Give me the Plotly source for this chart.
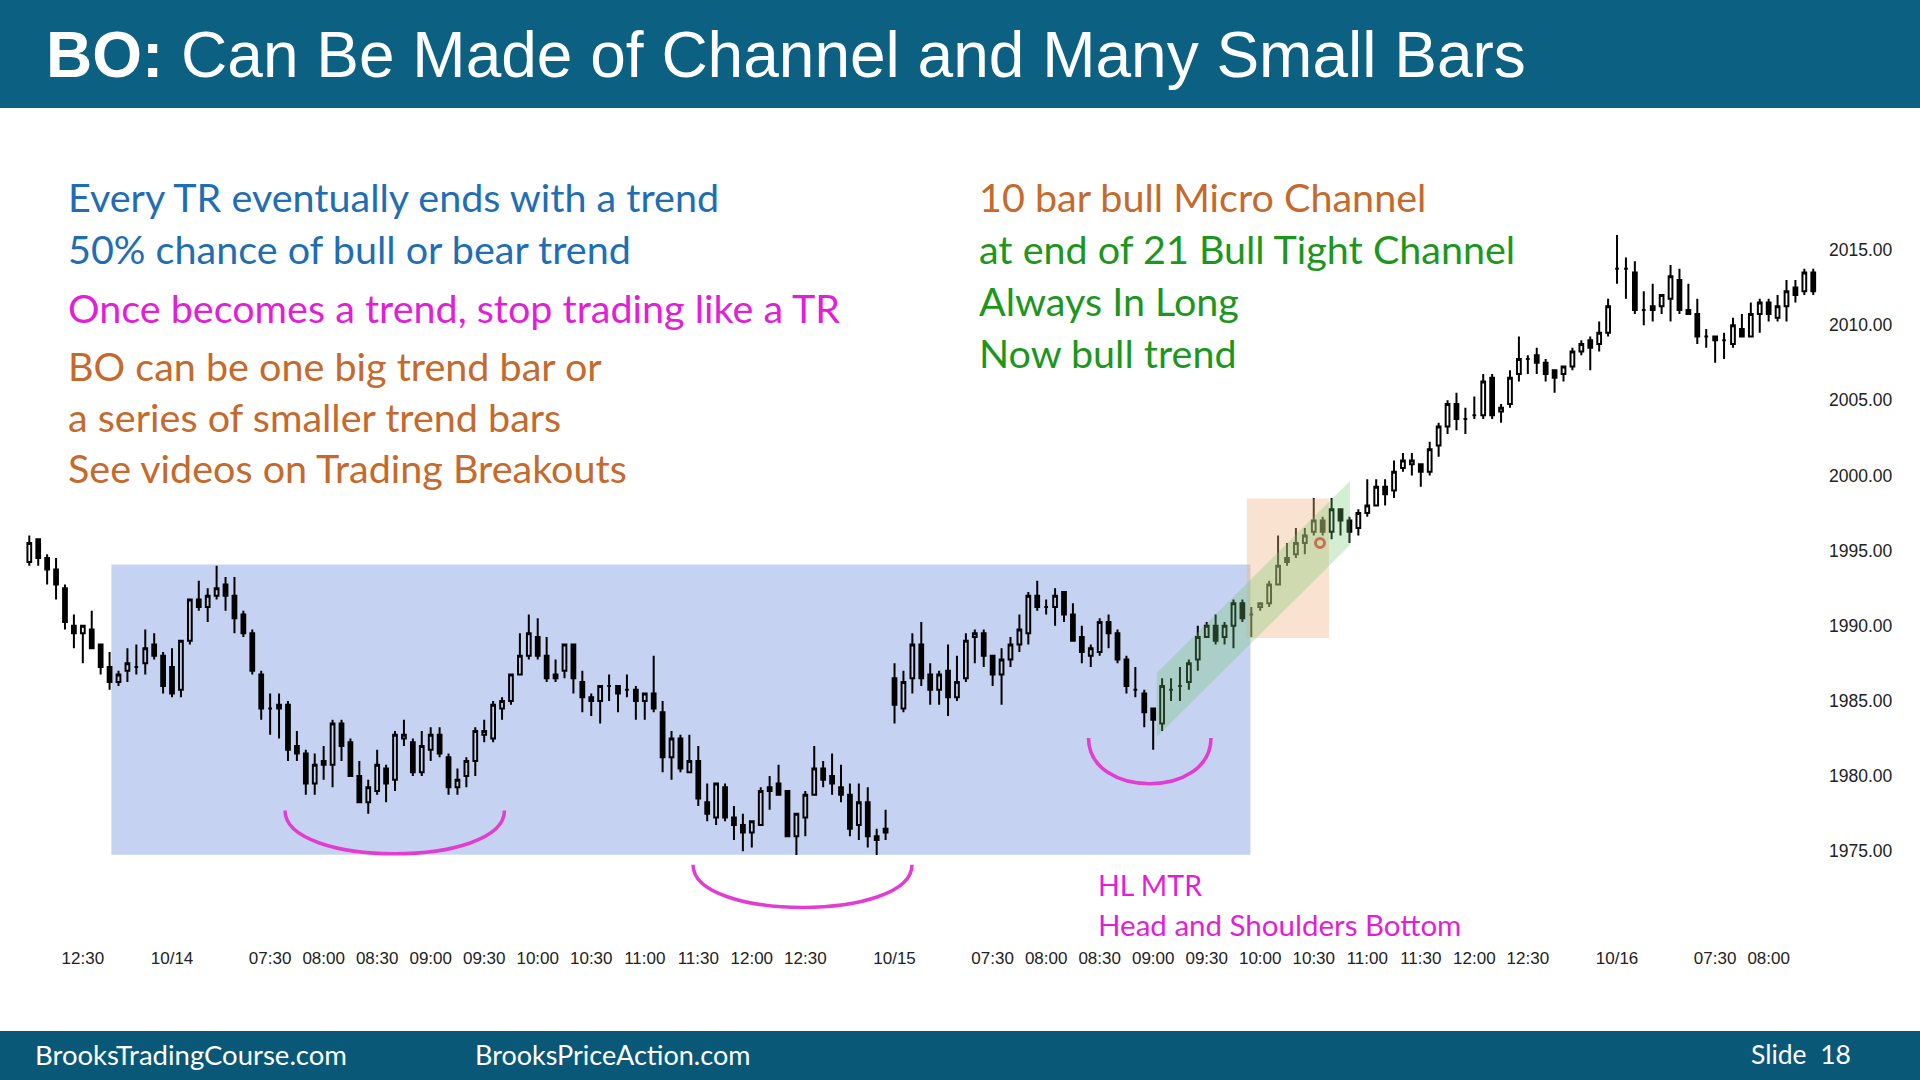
import pandas as pd
import plotly.graph_objects as go

# ---------------- data ----------------
sessions = [("2015-10-13", "12:00", "13:15"),
            ("2015-10-14", "06:35", "13:15"),
            ("2015-10-15", "06:35", "13:15"),
            ("2015-10-16", "06:35", "08:25")]

opens = [1994.25, 1995.75, 1994.5, 1993.75, 1992.5, 1990.0, 1989.5, 1989.75, 1988.75, 1987.25,
         1986.25, 1987.0, 1987.25, 1987.5, 1988.75, 1988.0, 1987.25, 1985.75, 1989.0, 1991.75,
         1991.25, 1992.0, 1992.75, 1992.0, 1990.75, 1989.5, 1986.75, 1984.5, 1984.75, 1984.75,
         1982.0, 1981.5, 1979.5, 1981.0, 1980.75, 1983.5, 1982.25, 1980.0, 1978.25, 1979.0,
         1980.5, 1979.75, 1982.5, 1982.25, 1980.25, 1981.75, 1982.75, 1981.25, 1979.25, 1980.0,
         1981.0, 1982.75, 1982.5, 1984.5, 1985.0, 1986.75, 1988.0, 1989.25, 1988.0, 1986.75,
         1987.0, 1988.75, 1986.25, 1985.25, 1985.0, 1986.0, 1986.0, 1985.75, 1985.75, 1985.0,
         1985.5, 1984.25, 1981.25, 1982.5, 1980.25, 1981.0, 1978.25, 1977.25, 1979.25, 1977.25,
         1976.75, 1976.25, 1976.75, 1979.25, 1979.5, 1979.0, 1976.0, 1977.25, 1978.75, 1980.5,
         1980.0, 1979.25, 1978.75, 1976.75, 1978.25, 1976.0, 1976.5, 1986.5, 1984.5, 1986.5,
         1988.75, 1986.75, 1985.75, 1987.0, 1985.25, 1986.5, 1989.25, 1989.5, 1988.0, 1986.75,
         1987.75, 1988.75, 1989.5, 1992.0, 1991.25, 1991.25, 1992.25, 1990.75, 1989.25, 1988.0,
         1988.25, 1990.25, 1989.5, 1987.75, 1985.75, 1985.5, 1984.5, 1983.5, 1985.75, 1986.0,
         1986.25, 1987.75, 1989.25, 1990.0, 1989.25, 1990.0, 1991.5, 1990.75, 1991.25, 1991.5,
         1992.75, 1994.5, 1994.75, 1995.5, 1996.25, 1997.0, 1996.25, 1997.75, 1997.0, 1996.5,
         1997.5, 1998.0, 1999.25, 1999.0, 2000.5, 2000.75, 2000.75, 2000.25, 2002.0, 2003.25,
         2004.75, 2003.75, 2004.0, 2004.0, 2006.5, 2004.25, 2004.75, 2006.75, 2007.75, 2008.0,
         2007.5, 2007.0, 2006.75, 2007.25, 2008.25, 2009.0, 2008.75, 2009.5, 2013.75, 2013.75,
         2013.5, 2011.0, 2011.25, 2011.25, 2011.75, 2013.0, 2011.0, 2010.75, 2009.25, 2009.25,
         2009.0, 2008.75, 2009.75, 2009.25, 2010.75, 2011.5, 2010.5, 2011.25, 2012.5, 2012.25,
         2013.5]
highs = [1996.0, 1995.75, 1994.75, 1994.5, 1992.75, 1990.75, 1990.0, 1991.0, 1988.75, 1988.25,
         1987.0, 1988.5, 1988.75, 1989.75, 1989.5, 1988.25, 1988.5, 1989.0, 1991.75, 1993.0,
         1992.5, 1994.0, 1993.25, 1993.25, 1991.0, 1989.75, 1987.0, 1985.5, 1985.5, 1985.0,
         1983.0, 1981.75, 1981.5, 1982.0, 1983.75, 1983.75, 1982.5, 1981.0, 1979.75, 1981.75,
         1980.75, 1983.0, 1983.75, 1982.5, 1983.0, 1983.25, 1983.25, 1981.5, 1980.5, 1981.25,
         1983.25, 1983.75, 1985.0, 1985.25, 1986.75, 1989.5, 1990.75, 1990.5, 1989.25, 1987.75,
         1988.75, 1988.75, 1987.0, 1985.5, 1986.0, 1986.75, 1986.0, 1986.75, 1986.0, 1985.5,
         1988.0, 1985.0, 1983.0, 1982.75, 1982.75, 1982.0, 1979.5, 1979.5, 1979.5, 1978.0,
         1977.5, 1977.0, 1979.25, 1980.0, 1980.75, 1979.0, 1977.5, 1979.0, 1982.0, 1981.0,
         1981.5, 1980.75, 1979.5, 1979.5, 1979.25, 1976.5, 1977.75, 1987.5, 1987.0, 1989.5,
         1990.25, 1987.5, 1987.0, 1988.75, 1988.0, 1989.5, 1989.75, 1989.75, 1988.0, 1988.5,
         1989.25, 1990.75, 1992.25, 1993.0, 1991.75, 1992.5, 1992.25, 1991.5, 1990.0, 1988.75,
         1990.5, 1990.75, 1989.75, 1988.0, 1987.25, 1985.75, 1984.5, 1986.5, 1986.5, 1987.25,
         1987.75, 1990.0, 1990.25, 1990.75, 1990.25, 1991.75, 1991.75, 1991.25, 1991.5, 1993.0,
         1996.0, 1995.5, 1996.5, 1996.5, 1998.5, 1997.25, 1998.5, 1997.75, 1997.25, 1997.75,
         1999.75, 1999.75, 1999.75, 2001.0, 2001.5, 2001.5, 2000.75, 2002.25, 2003.5, 2005.0,
         2005.5, 2004.5, 2005.25, 2006.75, 2006.75, 2004.75, 2007.0, 2009.25, 2008.0, 2008.5,
         2007.75, 2007.0, 2007.25, 2008.5, 2009.0, 2009.25, 2010.25, 2011.75, 2016.0, 2014.5,
         2014.25, 2012.25, 2012.75, 2012.0, 2014.0, 2013.75, 2012.75, 2011.75, 2009.75, 2009.25,
         2009.5, 2010.5, 2010.75, 2011.5, 2011.75, 2011.75, 2012.0, 2013.0, 2013.0, 2013.75,
         2013.75]
lows = [1994.0, 1994.0, 1992.75, 1991.75, 1989.75, 1988.5, 1987.5, 1988.5, 1986.75, 1985.75,
        1986.0, 1986.25, 1986.75, 1986.75, 1987.75, 1985.5, 1985.25, 1985.25, 1988.75, 1991.0,
        1990.25, 1991.75, 1991.0, 1989.5, 1989.25, 1986.75, 1983.75, 1982.75, 1982.5, 1981.0,
        1981.0, 1978.75, 1978.75, 1979.75, 1979.25, 1981.0, 1980.0, 1978.25, 1977.5, 1978.75,
        1978.25, 1979.0, 1982.0, 1980.0, 1980.0, 1981.0, 1981.25, 1978.75, 1978.75, 1979.25,
        1980.0, 1982.25, 1982.25, 1983.75, 1984.75, 1986.75, 1987.75, 1987.75, 1986.25, 1986.25,
        1986.5, 1985.5, 1984.25, 1984.0, 1983.5, 1985.0, 1984.25, 1985.25, 1983.75, 1983.75,
        1984.25, 1980.25, 1979.75, 1980.25, 1980.25, 1978.0, 1977.0, 1976.75, 1977.0, 1975.75,
        1975.0, 1975.25, 1976.75, 1977.75, 1978.75, 1976.0, 1974.75, 1976.0, 1978.75, 1979.25,
        1978.75, 1978.25, 1976.0, 1975.75, 1975.25, 1974.75, 1975.75, 1983.5, 1984.25, 1985.5,
        1986.0, 1984.75, 1984.75, 1984.0, 1985.0, 1986.25, 1987.5, 1987.25, 1986.0, 1984.75,
        1987.25, 1988.25, 1988.75, 1991.0, 1990.75, 1990.0, 1990.25, 1989.0, 1987.5, 1987.25,
        1988.0, 1988.5, 1987.5, 1985.5, 1985.25, 1983.25, 1981.75, 1983.0, 1985.0, 1985.0,
        1985.75, 1987.0, 1989.25, 1988.75, 1988.75, 1988.5, 1990.25, 1989.25, 1991.0, 1991.25,
        1992.75, 1994.0, 1994.5, 1994.75, 1996.0, 1996.0, 1995.75, 1996.0, 1995.5, 1996.0,
        1997.25, 1998.0, 1998.0, 1998.5, 2000.25, 2000.0, 1999.25, 2000.0, 2001.25, 2002.75,
        2003.0, 2002.75, 2003.75, 2003.75, 2003.75, 2003.5, 2004.5, 2006.25, 2006.75, 2006.75,
        2006.25, 2005.5, 2006.25, 2007.0, 2008.0, 2007.0, 2008.25, 2009.25, 2012.75, 2011.75,
        2010.75, 2010.0, 2010.25, 2010.75, 2010.25, 2010.75, 2010.75, 2008.75, 2008.5, 2007.5,
        2007.75, 2008.5, 2009.25, 2009.25, 2009.5, 2010.25, 2010.25, 2010.25, 2011.5, 2012.0,
        2012.0]
closes = [1995.5, 1994.5, 1993.75, 1992.75, 1990.25, 1989.5, 1990.0, 1988.5, 1987.25, 1986.25,
          1986.75, 1987.5, 1987.25, 1988.5, 1988.0, 1986.0, 1985.5, 1989.0, 1991.75, 1991.25,
          1992.0, 1992.5, 1992.0, 1990.5, 1989.5, 1987.0, 1984.5, 1984.5, 1984.5, 1981.75,
          1981.5, 1979.5, 1980.75, 1980.75, 1983.5, 1982.0, 1980.0, 1978.25, 1979.25, 1980.75,
          1979.5, 1982.75, 1982.75, 1980.25, 1982.0, 1982.75, 1981.5, 1979.25, 1979.75, 1981.0,
          1983.0, 1983.0, 1984.75, 1985.0, 1986.75, 1988.0, 1989.5, 1988.0, 1986.5, 1986.5,
          1988.75, 1986.5, 1985.25, 1985.0, 1986.0, 1986.0, 1985.5, 1985.75, 1985.0, 1985.5,
          1984.5, 1981.25, 1982.5, 1980.5, 1981.0, 1978.5, 1977.5, 1979.5, 1977.25, 1976.75,
          1976.25, 1977.0, 1979.0, 1979.0, 1978.75, 1976.0, 1977.5, 1978.75, 1980.5, 1979.75,
          1979.5, 1978.75, 1976.5, 1978.25, 1976.0, 1975.75, 1976.25, 1984.75, 1986.25, 1988.75,
          1986.5, 1985.75, 1986.75, 1985.25, 1986.25, 1989.0, 1989.5, 1988.0, 1986.75, 1987.75,
          1988.75, 1989.75, 1992.0, 1991.25, 1991.25, 1992.0, 1990.75, 1989.0, 1988.25, 1988.5,
          1990.25, 1989.5, 1987.75, 1986.0, 1985.75, 1984.25, 1983.75, 1986.0, 1985.75, 1986.0,
          1987.5, 1989.25, 1990.0, 1989.0, 1990.0, 1991.5, 1990.5, 1990.75, 1991.5, 1992.75,
          1994.0, 1994.25, 1995.5, 1996.0, 1997.0, 1996.25, 1997.75, 1997.0, 1996.25, 1997.5,
          1998.0, 1999.25, 1998.75, 2000.25, 2001.0, 2001.0, 2000.25, 2001.75, 2003.25, 2004.75,
          2003.75, 2003.75, 2004.0, 2006.25, 2004.0, 2004.5, 2006.5, 2007.75, 2007.75, 2007.5,
          2006.75, 2006.5, 2007.25, 2008.25, 2008.75, 2008.5, 2009.5, 2011.25, 2013.75, 2013.75,
          2011.0, 2011.0, 2011.0, 2012.0, 2013.25, 2011.0, 2010.75, 2009.25, 2009.25, 2009.0,
          2009.0, 2010.0, 2009.25, 2010.75, 2011.5, 2010.75, 2011.25, 2012.25, 2012.0, 2013.5,
          2012.25]

tick_clock = ["07:30", "08:00", "08:30", "09:00", "09:30", "10:00",
              "10:30", "11:00", "11:30", "12:00", "12:30"]
price_ticks = [1975, 1980, 1985, 1990, 1995, 2000, 2005, 2010, 2015]

signal_x = [144.7]
signal_y = [1995.5]

# ---------------- build bar index & ticks ----------------
bar_times = []
for d, t0, t1 in sessions:
    bar_times += list(pd.date_range(f"{d} {t0}", f"{d} {t1}", freq="5min"))
xs = list(range(len(bar_times)))

tickvals, ticktext = [], []
for i, ts in enumerate(bar_times):
    first_of_day = i > 0 and ts.date() != bar_times[i - 1].date()
    if first_of_day:
        tickvals.append(i)
        ticktext.append(ts.strftime("%m/%d"))
    elif i > 0 and ts.strftime("%H:%M") in tick_clock:
        tickvals.append(i)
        ticktext.append(ts.strftime("%H:%M"))

# ---------------- geometry helpers (pixel -> paper) ----------------
W, H = 1920, 1080
ML, MR, MT, MB = 0, 98, 110, 134
PW, PH = W - ML - MR, H - MT - MB


def px(x):
    return (x - ML) / PW


def py(y):
    return (H - MB - y) / PH


fig = go.Figure()

fig.add_trace(go.Candlestick(
    x=xs, open=opens, high=highs, low=lows, close=closes,
    increasing=dict(line=dict(color="#000000", width=2), fillcolor="rgba(0,0,0,0)"),
    decreasing=dict(line=dict(color="#000000", width=2), fillcolor="#000000"),
    whiskerwidth=0, showlegend=False, hoverinfo="skip",
))

fig.add_trace(go.Scatter(
    x=signal_x, y=signal_y, mode="markers",
    marker=dict(symbol="circle-open", size=9, color="#e8141e", line=dict(width=3, color="#e8141e")),
    showlegend=False, hoverinfo="skip",
))

shapes = []
# header / footer bands
shapes.append(dict(type="rect", xref="paper", yref="paper", x0=px(0), x1=px(W), y0=py(108), y1=py(0),
                   fillcolor="#0c6182", line=dict(width=0), layer="below"))
shapes.append(dict(type="rect", xref="paper", yref="paper", x0=px(0), x1=px(W), y0=py(H), y1=py(1031),
                   fillcolor="#0a5878", line=dict(width=0), layer="below"))
# trading range box
shapes.append(dict(type="rect", xref="x", yref="y", x0=9.2, x1=136.9, y0=1974.77, y1=1994.07,
                   fillcolor="#c6d2f1", line=dict(width=0), layer="below"))
# micro channel box
shapes.append(dict(type="rect", xref="x", yref="y", x0=136.5, x1=145.7, y0=1989.18, y1=1998.47,
                   fillcolor="rgba(240,180,130,0.38)", line=dict(width=0), layer="above"))
# tight channel band
shapes.append(dict(type="path", xref="x", yref="y",
                   path="M 126.4,1982.6 L 126.4,1986.86 L 148.06,1999.63 L 148.06,1995.37 Z",
                   fillcolor="rgba(110,200,110,0.30)", line=dict(width=0), layer="above"))


# magenta arcs (lower half-ellipses)
def arc(x0, x1, ytop, ybot):
    k = 4.0 / 3.0
    yc = ytop - k * (ytop - ybot)
    return dict(type="path", xref="x", yref="y",
                path=f"M {x0},{ytop} C {x0},{yc} {x1},{yc} {x1},{ytop}",
                line=dict(color="#e23cd2", width=3.5), layer="above")


shapes.append(arc(28.67, 53.27, 1977.70, 1974.83))
shapes.append(arc(74.41, 98.96, 1974.10, 1971.26))
shapes.append(arc(118.75, 132.48, 1982.53, 1979.49))

TXT = "Lato"
BLUE, MAG, ORA, GRN = "#1f6db4", "#e21fd6", "#c5692c", "#1c961c"

ann = []
ann.append(dict(text="<b>BO:</b> Can Be Made of Channel and Many Small Bars", x=px(44), y=py(55),
                font=dict(family="Liberation Sans, Arial", size=64, color="white")))
left_lines = [("Every TR eventually ends with a trend", 197, BLUE),
              ("50% chance of bull or bear trend", 249, BLUE),
              ("Once becomes a trend, stop trading like a TR", 307, MAG),
              ("BO can be one big trend bar or", 365, ORA),
              ("a series of smaller trend bars", 416, ORA),
              ("See videos on Trading Breakouts", 468, ORA)]
for t, y, c in left_lines:
    ann.append(dict(text=t, x=px(66), y=py(y), font=dict(family=TXT, size=39.5, color=c)))
right_lines = [("10 bar bull Micro Channel", 197, ORA),
               ("at end of 21 Bull Tight Channel", 249, GRN),
               ("Always In Long", 300, GRN),
               ("Now bull trend", 352, GRN)]
for t, y, c in right_lines:
    ann.append(dict(text=t, x=px(977), y=py(y), font=dict(family=TXT, size=39.5, color=c)))
ann.append(dict(text="HL MTR", x=px(1096), y=py(885), font=dict(family=TXT, size=28.5, color=MAG)))
ann.append(dict(text="Head and Shoulders Bottom", x=px(1096), y=py(924), font=dict(family=TXT, size=29.5, color=MAG)))
# footer
ann.append(dict(text="BrooksTradingCourse.com", x=px(33), y=py(1054), font=dict(family=TXT, size=27.5, color="white")))
ann.append(dict(text="BrooksPriceAction.com", x=px(473), y=py(1054), font=dict(family=TXT, size=27, color="white")))
ann.append(dict(text="Slide  18", x=px(1749), y=py(1054), font=dict(family=TXT, size=26.5, color="white")))
for a in ann:
    a.update(xref="paper", yref="paper", xanchor="left", yanchor="middle", showarrow=False)

fig.update_layout(
    width=W, height=H, margin=dict(l=ML, r=MR, t=MT, b=MB, pad=0),
    paper_bgcolor="white", plot_bgcolor="rgba(0,0,0,0)",
    shapes=shapes, annotations=ann, boxgap=0.4,
    xaxis=dict(range=[-3.2848, 200.98], tickvals=tickvals, ticktext=ticktext,
               showgrid=False, zeroline=False, showline=False, ticks="",
               tickfont=dict(family="Liberation Sans, Arial", size=17, color="#222"),
               rangeslider=dict(visible=False), fixedrange=True),
    yaxis=dict(range=[1968.693, 2024.315], side="right", tickvals=price_ticks,
               tickformat=".2f", showgrid=False, zeroline=False, showline=False, ticks="",
               ticklabelstandoff=6,
               tickfont=dict(family="Liberation Sans, Arial", size=17.5, color="#222"), fixedrange=True),
)

fig.write_html("out.html")
